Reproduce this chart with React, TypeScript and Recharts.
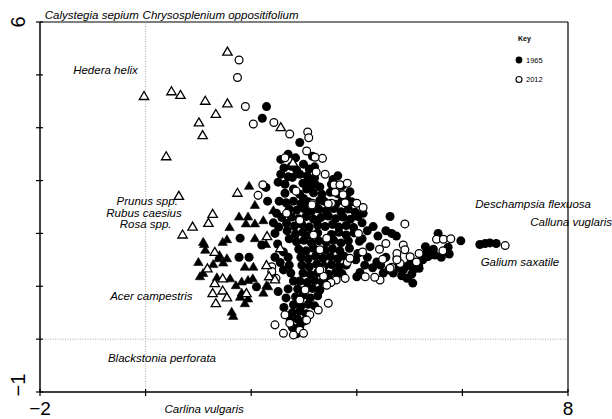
import React from "react";
import {
  ScatterChart,
  Scatter,
  XAxis,
  YAxis,
  ReferenceLine,
  ReferenceDot,
} from "recharts";

// axis ticks (only the end values carry a label)
const xTicks = [-2, 0, 2, 4, 6, 8];
const yTicks = [-1, 0, 1, 2, 3, 4, 5, 6];
const xEndLabels = [-2, 8];
const yEndLabels = [-1, 6];

// plot scores
const sites1965: [number, number][] = [
  [2.29, 4.4], [2.21, 4.18], [2.92, 3.72], [3.16, 3.46], [3.2, 3.26], [3.64, 3.09],
  [3.87, 2.79], [3.9, 2.6], [2.28, 2.87], [2.31, 2.61], [2.53, 2.61], [2.48, 2.38],
  [2.67, 2.19], [2.2, 1.78], [2.61, 1.65], [2.61, 1.31], [1.79, 1.91], [1.96, 1.55],
  [1.77, 1.55], [2.1, 0.99], [2.51, 0.9],
  [2.56, 3.4], [2.84, 3.43], [2.99, 3.31], [2.56, 3.12], [2.7, 3.07], [2.92, 3.12],
  [2.51, 2.97], [2.64, 2.93], [3.11, 3.01], [3.21, 2.93], [2.8, 2.84], [3.05, 2.84],
  [2.8, 2.61], [2.99, 2.66], [3.3, 2.63],
  [2.62, 3.24], [2.76, 3.27], [3.1, 3.22], [2.7, 3.5], [2.86, 3.2],
  [2.78, 3.06], [3.06, 3.09], [3.2, 3.05], [3.55, 3.02],
  [2.98, 2.95], [3.12, 2.9], [3.3, 2.88], [3.52, 2.93], [3.72, 2.9],
  [2.64, 2.76], [2.92, 2.74], [3.18, 2.77], [3.34, 2.74], [3.5, 2.78], [3.64, 2.75], [3.8, 2.7],
  [2.66, 2.58], [2.94, 2.56], [3.08, 2.6], [3.2, 2.55], [3.38, 2.61], [3.6, 2.55], [3.72, 2.62],
  [2.72, 2.46], [2.86, 2.44], [3.0, 2.47], [3.14, 2.42], [3.28, 2.46], [3.42, 2.43],
  [3.56, 2.47], [3.7, 2.41], [3.84, 2.46], [3.97, 2.4],
  [2.76, 2.31], [2.9, 2.28], [3.04, 2.32], [3.18, 2.27], [3.32, 2.3], [3.46, 2.33],
  [3.6, 2.28], [3.74, 2.31], [3.88, 2.27], [4.02, 2.32],
  [2.82, 2.14], [2.96, 2.17], [3.1, 2.12], [3.26, 2.16], [3.4, 2.13], [3.54, 2.17],
  [3.66, 2.12], [3.8, 2.15], [3.94, 2.11],
  [2.84, 1.99], [2.98, 2.02], [3.12, 1.97], [3.26, 2.01], [3.52, 1.98], [3.66, 2.02],
  [3.8, 1.97], [3.95, 2.01],
  [2.86, 1.84], [3.0, 1.87], [3.14, 1.82], [3.28, 1.86], [3.42, 1.83], [3.56, 1.87],
  [3.7, 1.82], [3.84, 1.86],
  [2.9, 1.7], [3.04, 1.67], [3.18, 1.72], [3.4, 1.68], [3.54, 1.71], [3.68, 1.67], [3.86, 1.72],
  [2.94, 1.55], [3.08, 1.52], [3.22, 1.57], [3.36, 1.53], [3.5, 1.56], [3.64, 1.52], [3.76, 1.57],
  [2.96, 1.4], [3.1, 1.37], [3.24, 1.42], [3.38, 1.38], [3.52, 1.41], [3.66, 1.37], [3.8, 1.4],
  [2.98, 1.25], [3.12, 1.22], [3.26, 1.26], [3.46, 1.23], [3.6, 1.27], [3.72, 1.24],
  [2.92, 1.1], [3.06, 1.07], [3.2, 1.11], [3.34, 1.08], [3.5, 1.12],
  [2.88, 0.95], [3.02, 0.92], [3.16, 0.96], [3.3, 0.93],
  [2.84, 0.8], [2.98, 0.83], [3.12, 0.78], [3.26, 0.82],
  [2.8, 0.65], [2.94, 0.62], [3.08, 0.66], [3.2, 0.63],
  [2.78, 0.5], [2.92, 0.53], [3.04, 0.48],
  [2.74, 0.36], [2.88, 0.38], [3.0, 0.34],
  [2.78, 0.22], [2.92, 0.24], [2.86, 0.1],
  [2.42, 2.2], [2.45, 2.0], [2.5, 1.8], [2.45, 1.55], [2.55, 1.45], [2.7, 1.55],
  [2.72, 1.9], [2.68, 2.05], [2.75, 1.25], [2.8, 1.1], [2.7, 0.95], [2.66, 0.78],
  [2.62, 0.6], [2.72, 1.4], [2.58, 2.3], [2.52, 2.12],
  [4.1, 2.2], [4.15, 1.4], [4.05, 1.85], [4.12, 2.38], [3.98, 1.5],
  [4.63, 2.32], [4.66, 2.0], [5.54, 2.0], [5.97, 1.86], [6.33, 1.79], [6.43, 1.81],
  [6.52, 1.82], [6.64, 1.81], [5.32, 1.63], [5.42, 1.61], [5.35, 1.56], [5.48, 1.59],
  [5.75, 1.61], [5.01, 1.43], [5.17, 1.4], [4.92, 1.37], [4.88, 1.31], [5.07, 1.31],
  [5.18, 1.34], [5.06, 1.06], [4.76, 1.34], [4.69, 1.25], [4.31, 2.13], [4.38, 1.46],
  [4.6, 1.31], [4.06, 1.26], [4.0, 1.18], [5.04, 1.23], [5.73, 1.74], [4.1, 1.9],
  [4.2, 2.05], [4.02, 1.62],
  [4.2, 1.55], [4.3, 1.35], [4.45, 1.4], [4.55, 1.55], [4.5, 1.25], [4.25, 1.75],
  [4.4, 1.95], [4.55, 2.05], [4.75, 1.95], [4.85, 1.2], [4.95, 1.15], [5.25, 1.5],
  [5.6, 1.55], [5.3, 1.75], [5.45, 1.7],
];

const sites2012: [number, number][] = [
  [1.77, 5.28], [1.74, 4.95], [1.89, 4.4], [2.04, 4.07], [2.43, 4.1], [2.73, 3.88],
  [3.07, 3.92], [3.09, 3.81], [3.05, 3.56], [3.35, 3.42], [3.21, 3.44], [3.4, 3.12],
  [3.23, 3.16], [2.64, 3.43], [2.22, 2.92], [2.85, 2.8], [3.57, 2.92], [3.68, 2.92],
  [3.82, 2.95], [3.59, 2.78], [3.74, 2.73], [3.16, 2.57], [3.52, 2.57], [4.0, 2.57],
  [2.13, 2.72], [2.67, 2.38], [3.15, 2.54], [3.46, 2.56], [3.78, 2.58], [4.12, 2.49],
  [4.91, 2.18], [3.18, 1.97], [3.43, 1.91], [4.03, 2.0], [4.43, 1.7], [4.55, 1.81],
  [4.11, 1.65], [4.88, 1.78], [4.91, 1.69], [4.76, 1.53], [4.49, 1.51], [4.82, 1.43],
  [4.66, 1.36], [4.44, 1.12], [4.34, 1.17], [4.16, 1.18], [3.78, 1.15], [3.61, 1.12],
  [3.51, 1.07], [3.82, 1.45], [3.87, 1.53], [3.34, 1.31], [3.37, 1.19], [3.46, 0.68],
  [3.11, 0.46], [2.92, 0.17], [2.73, 0.3], [2.45, 0.27], [2.61, 0.11], [2.8, 0.08],
  [2.99, 0.11], [3.27, 0.55], [2.39, 1.37], [2.39, 1.28], [2.47, 1.15],
  [5.51, 1.89], [5.64, 1.89], [5.78, 1.9], [5.63, 1.67], [6.81, 1.77], [4.76, 1.62],
  [4.76, 1.5], [5.01, 1.56], [5.18, 1.62], [5.13, 1.46], [4.63, 1.34],
  [2.92, 2.25], [3.3, 1.69], [3.02, 0.93], [3.43, 1.02], [3.3, 1.31], [2.92, 0.74],
  [3.05, 0.36], [2.64, 0.46],
];

// species scores (triangles)
const species1965: [number, number][] = [
  [1.96, 2.9], [2.07, 2.54], [1.77, 2.32], [1.94, 2.32], [1.9, 2.19], [2.07, 2.19],
  [2.23, 2.25], [1.59, 2.12], [1.54, 1.89], [1.46, 1.84], [2.07, 1.91], [2.28, 1.8],
  [1.09, 1.84], [1.11, 1.8], [1.13, 1.69], [1.38, 1.53], [1.54, 1.53], [1.47, 1.45],
  [1.4, 1.59], [1.88, 1.37], [2.04, 1.37], [1.0, 1.46], [1.28, 1.42], [1.03, 1.19],
  [1.09, 1.25], [1.35, 1.17], [1.6, 1.15], [1.71, 1.02], [1.82, 1.09], [1.94, 1.12],
  [2.03, 1.15], [2.29, 1.02], [2.23, 0.88], [1.82, 0.88], [1.94, 0.77], [1.79, 0.8],
  [1.88, 0.68], [1.63, 0.52], [1.66, 0.44], [2.32, 1.0], [2.42, 2.44],
];

const species2012: [number, number][] = [
  [1.55, 5.44], [-0.03, 4.6], [0.49, 4.69], [0.66, 4.62], [1.13, 4.51], [1.55, 4.46],
  [1.33, 4.26], [1.01, 4.1], [1.08, 3.86], [2.56, 4.01], [0.39, 3.46], [2.79, 3.34],
  [0.63, 2.71], [1.74, 2.77], [1.27, 2.37], [1.19, 2.2], [0.89, 2.13], [0.7, 1.98],
  [1.31, 1.65], [1.17, 1.34], [1.46, 1.15], [1.31, 1.06], [1.27, 0.87], [1.46, 0.92],
  [1.54, 0.79], [1.33, 0.68], [1.91, 0.87], [2.3, 1.95], [2.55, 1.72], [2.29, 1.4],
  [2.34, 1.19], [2.45, 1.13],
];

const speciesNames = [
  { name: "Calystegia sepium", x: -1.02, y: 6.13 },
  { name: "Chrysosplenium oppositifolium", x: 1.42, y: 6.13 },
  { name: "Hedera helix", x: -0.76, y: 5.09 },
  { name: "Prunus spp.", x: 0.03, y: 2.62 },
  { name: "Rubus caesius", x: -0.03, y: 2.39 },
  { name: "Rosa spp.", x: 0.0, y: 2.18 },
  { name: "Acer campestris", x: 0.11, y: 0.82 },
  { name: "Blackstonia perforata", x: 0.31, y: -0.36 },
  { name: "Carlina vulgaris", x: 1.11, y: -1.32 },
  { name: "Deschampsia flexuosa", x: 7.34, y: 2.56 },
  { name: "Calluna vuglaris", x: 8.06, y: 2.22 },
  { name: "Galium saxatile", x: 7.09, y: 1.46 },
];

const FONT = "'Liberation Sans', Arial, sans-serif";

const toPoints = (arr: [number, number][]) => arr.map(([x, y]) => ({ x, y }));

const fmt = (v: number) => (v < 0 ? `\u2212${-v}` : `${v}`);

const FilledCircle = (props: any) => (
  <circle cx={props.cx} cy={props.cy} r={4.5} fill="#000" />
);

const OpenCircle = (props: any) => (
  <circle cx={props.cx} cy={props.cy} r={3.9} fill="#fff" stroke="#000" strokeWidth={1.25} />
);

const triPath = (cx: number, cy: number) =>
  `M${cx},${cy - 4.5} L${cx + 4.7},${cy + 3.5} L${cx - 4.7},${cy + 3.5} Z`;

const FilledTriangle = (props: any) => (
  <path d={triPath(props.cx, props.cy)} fill="#000" stroke="#000" strokeWidth={0.6} />
);

const OpenTriangle = (props: any) => (
  <path d={triPath(props.cx, props.cy)} fill="#fff" stroke="#000" strokeWidth={1.3} />
);

const XTick = (props: any) => {
  const { x, y, payload } = props;
  return (
    <g>
      <line x1={x} x2={x} y1={y - 3} y2={y + 4} stroke="#000" strokeWidth={1.2} />
      {xEndLabels.includes(payload.value) && (
        <text x={x} y={y + 23} textAnchor="middle" fontSize={19} fontFamily={FONT} fill="#000">
          {fmt(payload.value)}
        </text>
      )}
    </g>
  );
};

const YTick = (props: any) => {
  const { x, y, payload } = props;
  const cy = payload.value === -1 ? y - 7 : y;
  return (
    <g>
      <line x1={x - 4} x2={x + 3} y1={y} y2={y} stroke="#000" strokeWidth={1.2} />
      {yEndLabels.includes(payload.value) && (
        <text
          transform={`translate(${18},${cy}) rotate(-90)`}
          textAnchor="middle"
          dominantBaseline="central"
          fontSize={20}
          fontFamily={FONT}
          fill="#000"
        >
          {fmt(payload.value)}
        </text>
      )}
    </g>
  );
};

const App: React.FC = () => {
  return (
    <div style={{ position: "relative", width: 612, height: 419, background: "#fff" }}>
      <style>{`body{margin:0;background:#fff}`}</style>
      <ScatterChart
        width={612}
        height={419}
        margin={{ top: 22, right: 44, left: 10, bottom: 0 }}
      >
        <XAxis
          type="number"
          dataKey="x"
          domain={[-2, 8]}
          ticks={xTicks}
          interval={0}
          height={27}
          tickSize={0}
          tickMargin={0}
          tickLine={false}
          tick={<XTick />}
          axisLine={{ stroke: "#000", strokeWidth: 1.5 }}
        />
        <YAxis
          type="number"
          dataKey="y"
          domain={[-1, 6]}
          ticks={yTicks}
          interval={0}
          width={30}
          tickSize={0}
          tickMargin={0}
          tickLine={false}
          tick={<YTick />}
          axisLine={{ stroke: "#000", strokeWidth: 1.5 }}
        />
        <ReferenceLine x={0} stroke="#aaa" strokeDasharray="1 1.5" />
        <ReferenceLine y={0} stroke="#aaa" strokeDasharray="1 1.5" />
        <ReferenceLine y={6} stroke="#000" strokeWidth={1.2} />
        <ReferenceLine x={8} stroke="#000" strokeWidth={1.2} />
        <Scatter data={toPoints(sites1965)} shape={FilledCircle} isAnimationActive={false} />
        <Scatter data={toPoints(sites2012)} shape={OpenCircle} isAnimationActive={false} />
        <Scatter data={toPoints(species1965)} shape={FilledTriangle} isAnimationActive={false} />
        <Scatter data={toPoints(species2012)} shape={OpenTriangle} isAnimationActive={false} />
        {speciesNames.map((s) => (
          <ReferenceDot
            key={s.name}
            x={s.x}
            y={s.y}
            r={0}
            ifOverflow="visible"
            fill="none"
            stroke="none"
            label={{
              value: s.name,
              position: "center",
              fontSize: 11.5,
              fontStyle: "italic",
              fontFamily: FONT,
              fill: "#000",
            }}
          />
        ))}
      </ScatterChart>

      {/* Key */}
      <svg
        width={60}
        height={60}
        style={{ position: "absolute", left: 510, top: 30 }}
        fontFamily={FONT}
      >
        <text x={8} y={11} fontSize={7} fontWeight="bold" fill="#000">
          Key
        </text>
        <circle cx={9} cy={30} r={3.4} fill="#000" />
        <text x={16} y={32.5} fontSize={7.5} fill="#000">
          1965
        </text>
        <circle cx={9} cy={49.5} r={3} fill="#fff" stroke="#000" strokeWidth={1.1} />
        <text x={16} y={52} fontSize={7.5} fill="#000">
          2012
        </text>
      </svg>
    </div>
  );
};

export default App;
